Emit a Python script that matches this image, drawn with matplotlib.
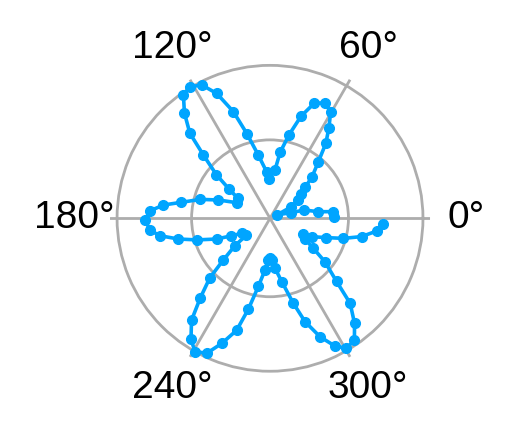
import numpy as np
import matplotlib
matplotlib.use("Agg")
import matplotlib.pyplot as plt

plt.rcParams["font.family"] = ["Liberation Sans", "DejaVu Sans"]

# angle (deg) and radius of each sample
theta_deg = [1.5, 6, 7.8, 13.6, 15, 26, 28.3, 32.9, 38.3, 41.5,
             44.5, 49.5, 53.3, 57, 60.3, 64.6, 69, 73.1, 77.2, 81.3,
             84.1, 91.5, 94, 100.5, 105.3, 109, 113.1, 117.1, 121.3, 125.1,
             129.1, 133.3, 136.5, 140.9, 144.3, 148.2, 154.9, 160.5, 164.8, 169.8,
             172.9, 176.4, 180.8, 185.6, 189, 192.7, 196.5, 201.2, 204.4, 207.9,
             215.6, 218, 221.8, 224.7, 228.8, 232.4, 236.8, 240.6, 244.9, 248.9,
             253.4, 256.6, 260.3, 264.5, 267.7, 270, 273.2, 275.7, 280.5, 285.3,
             288.7, 292.9, 297, 300.5, 304.7, 308.8, 313.3, 316.5, 321.7, 325.3,
             329.4, 334.3, 336.2, 341.1, 344.7, 348.7, 353.2, 357.1]
radius = [0.81, 0.81, 0.62, 0.45, 0.28, 0.10, 0.31, 0.43, 0.51, 0.60,
          0.75, 0.95, 1.19, 1.38, 1.56, 1.63, 1.57, 1.36, 1.09, 0.85,
          0.62, 0.50, 0.59, 0.82, 1.12, 1.44, 1.73, 1.91, 1.96, 1.92,
          1.73, 1.49, 1.17, 0.88, 0.65, 0.48, 0.47, 0.70, 0.92, 1.15,
          1.37, 1.53, 1.59, 1.54, 1.42, 1.20, 0.97, 0.73, 0.54, 0.41,
          0.37, 0.57, 0.80, 1.08, 1.35, 1.64, 1.84, 1.95, 1.90, 1.71,
          1.49, 1.19, 0.88, 0.66, 0.53, 0.51, 0.53, 0.64, 0.82, 1.12,
          1.39, 1.64, 1.83, 1.92, 1.89, 1.72, 1.49, 1.17, 0.89, 0.67,
          0.52, 0.47, 0.58, 0.76, 0.97, 1.19, 1.37, 1.44]

angle_ticks = [0, 60, 120, 180, 240, 300]
radial_grid = [1.0, 1.95]

fig = plt.figure(figsize=(5.15, 4.37), dpi=100)
ax = fig.add_axes([0.2136, 0.1343, 0.6214, 0.7323], projection="polar")

grid_color = "#adadad"
ax.plot(np.deg2rad(theta_deg), radius, color="#00a5ff", lw=2.6,
        marker="o", ms=7, zorder=3)

ax.set_ylim(0, 2.04)
ax.set_rgrids(radial_grid, labels=[""] * len(radial_grid))
ax.set_thetagrids(angle_ticks, labels=[""] * len(angle_ticks))
ax.grid(True, color=grid_color, lw=2.0)
ax.spines["polar"].set_visible(False)
ax.tick_params(length=0)

for a in angle_ticks:
    ax.text(np.deg2rad(a), 2.5, f"{a}°", ha="center", va="center",
            fontsize=28, clip_on=False)

fig.savefig("out.png", dpi=100)
